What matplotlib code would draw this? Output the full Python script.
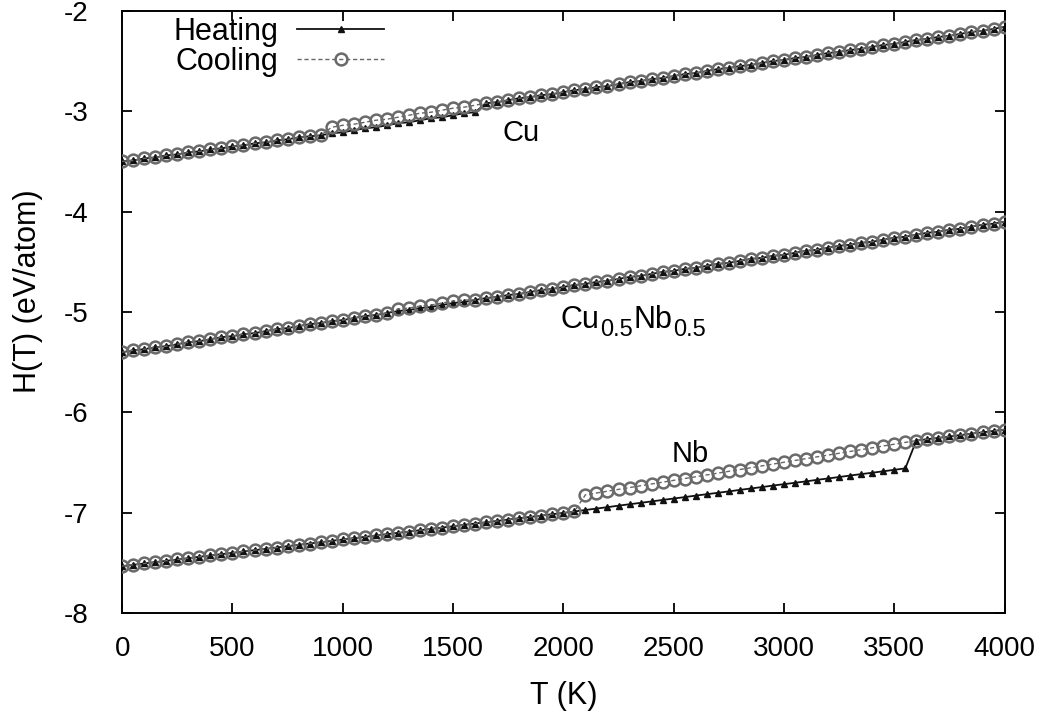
import numpy as np
import matplotlib
matplotlib.use("Agg")
import matplotlib.pyplot as plt

plt.rcParams['font.family'] = ['Liberation Sans', 'DejaVu Sans']
plt.rcParams['axes.unicode_minus'] = False

# temperature grid of the MD runs (K)
T = np.arange(0, 4001, 50)

# Cu: crystal branch (0-1600 K) and liquid branch (950-4000 K)
cu_solid = [-3.50, -3.49, -3.47, -3.46, -3.44, -3.43, -3.41, -3.40, -3.38, -3.37,
            -3.35, -3.34, -3.32, -3.31, -3.29, -3.28, -3.26, -3.25, -3.24, -3.22,
            -3.21, -3.19, -3.17, -3.16, -3.14, -3.12, -3.11, -3.09, -3.07, -3.06,
            -3.04, -3.02, -3.01]
cu_liquid = [-3.16, -3.14, -3.13, -3.11, -3.09, -3.08, -3.06, -3.04, -3.02, -3.01,
             -2.99, -2.97, -2.96, -2.94, -2.92, -2.91, -2.89, -2.87, -2.86, -2.84,
             -2.83, -2.81, -2.79, -2.78, -2.76, -2.75, -2.73, -2.71, -2.70, -2.68,
             -2.67, -2.65, -2.63, -2.62, -2.60, -2.58, -2.57, -2.55, -2.54, -2.52,
             -2.50, -2.49, -2.47, -2.46, -2.44, -2.42, -2.41, -2.39, -2.38, -2.36,
             -2.34, -2.33, -2.31, -2.29, -2.28, -2.26, -2.25, -2.23, -2.21, -2.20,
             -2.18, -2.16]

# Cu0.5Nb0.5 (amorphous, almost no hysteresis)
cunb_heat = [-5.40, -5.38, -5.37, -5.35, -5.34, -5.32, -5.30, -5.29, -5.27, -5.25,
             -5.24, -5.22, -5.21, -5.19, -5.17, -5.16, -5.14, -5.12, -5.11, -5.09,
             -5.08, -5.06, -5.04, -5.03, -5.01, -4.99, -4.98, -4.96, -4.95, -4.93,
             -4.91, -4.90, -4.88, -4.86, -4.85, -4.83, -4.82, -4.80, -4.78, -4.77,
             -4.75, -4.73, -4.72, -4.70, -4.69, -4.67, -4.65, -4.64, -4.62, -4.60,
             -4.59, -4.57, -4.56, -4.54, -4.52, -4.51, -4.49, -4.47, -4.46, -4.44,
             -4.43, -4.41, -4.39, -4.38, -4.36, -4.34, -4.33, -4.31, -4.30, -4.28,
             -4.26, -4.25, -4.23, -4.21, -4.20, -4.18, -4.17, -4.15, -4.13, -4.12,
             -4.10]
cunb_cool = [-5.40, -5.38, -5.37, -5.35, -5.34, -5.32, -5.30, -5.29, -5.27, -5.25,
             -5.24, -5.22, -5.21, -5.19, -5.17, -5.16, -5.14, -5.12, -5.11, -5.09,
             -5.08, -5.06, -5.04, -5.03, -5.01, -4.97, -4.96, -4.94, -4.93, -4.91,
             -4.89, -4.88, -4.88, -4.86, -4.85, -4.83, -4.82, -4.80, -4.78, -4.77,
             -4.75, -4.73, -4.72, -4.70, -4.69, -4.67, -4.65, -4.64, -4.62, -4.60,
             -4.59, -4.57, -4.56, -4.54, -4.52, -4.51, -4.49, -4.47, -4.46, -4.44,
             -4.43, -4.41, -4.39, -4.38, -4.36, -4.34, -4.33, -4.31, -4.30, -4.28,
             -4.26, -4.25, -4.23, -4.21, -4.20, -4.18, -4.17, -4.15, -4.13, -4.12,
             -4.10]

# Nb: crystal branch (0-3550 K) and liquid branch (2100-4000 K)
nb_solid = [-7.530, -7.517, -7.504, -7.490, -7.477, -7.464, -7.451, -7.437, -7.424, -7.411,
            -7.398, -7.384, -7.371, -7.358, -7.345, -7.331, -7.318, -7.305, -7.292, -7.278,
            -7.265, -7.252, -7.239, -7.225, -7.212, -7.199, -7.186, -7.172, -7.159, -7.146,
            -7.133, -7.119, -7.106, -7.093, -7.080, -7.066, -7.053, -7.040, -7.027, -7.013,
            -7.000, -6.986, -6.971, -6.957, -6.943, -6.928, -6.914, -6.900, -6.886, -6.871,
            -6.857, -6.843, -6.828, -6.814, -6.800, -6.786, -6.771, -6.757, -6.743, -6.728,
            -6.714, -6.700, -6.686, -6.671, -6.657, -6.643, -6.628, -6.614, -6.600, -6.586,
            -6.571, -6.557]
nb_liquid = [-6.820, -6.802, -6.784, -6.766, -6.748, -6.730, -6.712, -6.694, -6.676, -6.658,
             -6.640, -6.622, -6.604, -6.586, -6.568, -6.550, -6.532, -6.514, -6.496, -6.478,
             -6.460, -6.442, -6.424, -6.406, -6.388, -6.370, -6.352, -6.334, -6.316, -6.298,
             -6.280, -6.266, -6.253, -6.239, -6.225, -6.211, -6.198, -6.184, -6.170]

# heating: crystal until melting, then liquid; cooling: liquid until freezing
cu_heat = cu_solid + cu_liquid[14:]
cu_cool = cu_solid[:19] + cu_liquid
nb_heat = nb_solid + nb_liquid[30:]
nb_cool = nb_solid[:42] + nb_liquid

fig = plt.figure(figsize=(10.53, 7.19), dpi=100)
ax = fig.add_axes([0.116, 0.147, 0.838, 0.838])

heat_kw = dict(color='#111111', lw=1.3, marker='^', ms=5, mfc='#111111', mec='#111111')
cool_kw = dict(color='#666666', lw=1.0, ls=(0, (3, 2)), marker='o', ms=8.5,
               mfc='none', mec='#6a6a6a', mew=1.8)

for i, (h, c) in enumerate([(cu_heat, cu_cool), (cunb_heat, cunb_cool), (nb_heat, nb_cool)]):
    ax.plot(T, h, label='Heating' if i == 0 else None, zorder=2, **heat_kw)
    ax.plot(T, c, label='Cooling' if i == 0 else None, zorder=3, **cool_kw)

ax.text(1810, -3.22, 'Cu', fontsize=21, ha='center', va='center')
ax.text(2575, -6.41, 'Nb', fontsize=21, ha='center', va='center')

# Cu0.5Nb0.5 label, pieced together so the subscripts stay fairly large
for s, dx, dy, fs in [('Cu', 0, 0, 22), ('0.5', 28.5, -6, 17),
                      ('Nb', 53, 0, 22), ('0.5', 81.5, -6, 17)]:
    ax.annotate(s, xy=(1985, -5.16), xytext=(dx, dy), textcoords='offset points',
                fontsize=fs, ha='left', va='baseline')

ax.set_xlim(0, 4000)
ax.set_ylim(-8, -2)
ax.set_xticks(np.arange(0, 4001, 500))
ax.set_yticks(np.arange(-8, -1, 1))
ax.tick_params(direction='in', length=7, width=1.3, top=True, right=True, labelsize=20)
ax.tick_params(axis='x', pad=16)
ax.tick_params(axis='y', pad=24)
for s in ax.spines.values():
    s.set_linewidth(1.4)

ax.set_xlabel('T (K)', fontsize=22, va='top')
ax.xaxis.set_label_coords(0.5, -0.113)
ax.set_ylabel('H(T) (eV/atom)', fontsize=22)
ax.yaxis.set_label_coords(-0.09, 0.535)

ax.legend(loc='upper right', bbox_to_anchor=(0.297, 0.99), frameon=False,
          markerfirst=False, numpoints=1, handlelength=2.85, handletextpad=0.62,
          fontsize=22, labelspacing=0.0, borderaxespad=0.0, borderpad=0.0)

fig.savefig('out.png', dpi=100)
